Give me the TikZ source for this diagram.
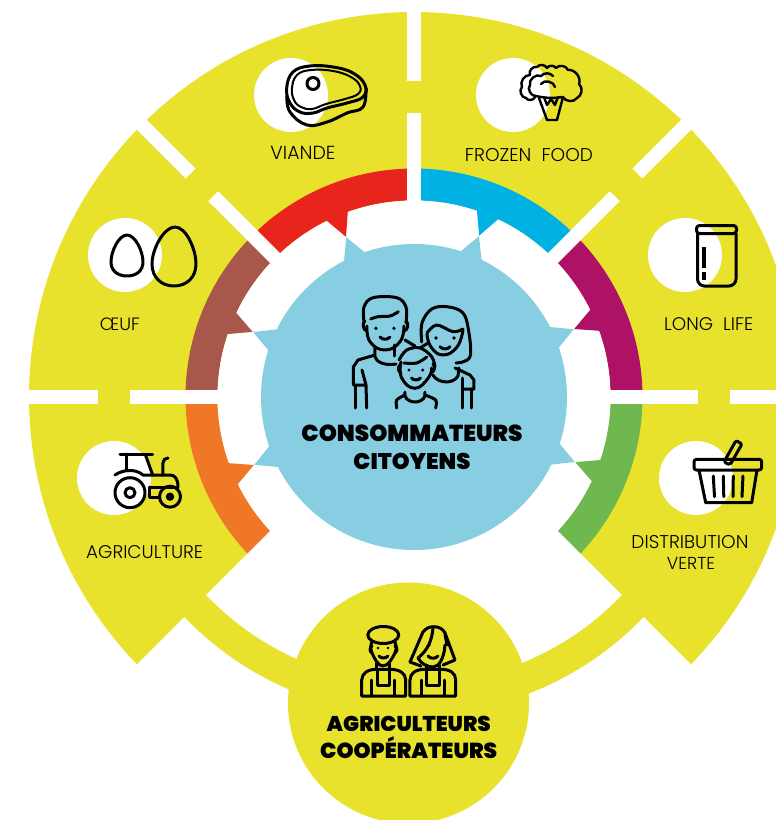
\documentclass[tikz,border=0pt]{standalone}
\usepackage{fontspec}
\usepackage{graphicx}
\newfontfamily\lblf{Poppins Light}
\newfontfamily\ttlf{Poppins Black}
\definecolor{yel}{HTML}{E8E22C}
\definecolor{cred}{HTML}{E8251C}
\definecolor{cblu}{HTML}{00B2E3}
\definecolor{cmag}{HTML}{AE1266}
\definecolor{cbro}{HTML}{A8574B}
\definecolor{cora}{HTML}{F07726}
\definecolor{cgre}{HTML}{6FB84F}
\definecolor{sky}{HTML}{88CEE3}
\newcommand{\ringpart}[3]{%
  \fill[#1] (#2:228.5) arc (#2:#3:228.5) -- (#3:196.5) arc (#3:#2:196.5) -- cycle;
}
\newcommand{\ringtooth}[2]{%
  \fill[#1] ({#2-3.5}:198) -- (#2:174) -- ({#2+3.5}:198) -- cycle;
}
\newcommand{\fitw}[2]{\resizebox{#1pt}{!}{#2}}
\tikzset{
  icon/.style={line width=3pt,line cap=round,line join=round,draw=black},
  thinicon/.style={icon,line width=2.4pt},
  lbl/.style={anchor=base,inner sep=0pt,text=black,font=\lblf\fontsize{17}{20}\selectfont},
  ttl/.style={anchor=base,inner sep=0pt,text=black,font=\ttlf\fontsize{22}{26}\selectfont},
}
\begin{document}
\begin{tikzpicture}[x=1pt,y=1pt]
\useasboundingbox (-414,397) rectangle (362,-423);
\clip (-414,397) rectangle (362,-423);
% yellow body
\fill[yel] (-43.95:385) arc (-43.95:223.95:385) -- (223.73:318) arc (223.73:316.27:318) -- cycle;
% coloured ring
\ringpart{cmag}{0}{45}
\ringpart{cblu}{45}{90}
\ringpart{cred}{90}{135}
\ringpart{cbro}{135}{180}
\ringpart{cora}{180}{225}
\ringpart{cgre}{-45}{0}
% white bottom wedge
\fill[white] (-10,0) -- (223.59:287) arc (223.59:316.41:287) -- (10,0) -- cycle;
% inner white
\fill[white] (0,0) circle (196.5);
% gear teeth of the ring
\ringtooth{cmag}{23}
\ringtooth{cblu}{68}
\ringtooth{cred}{113}
\ringtooth{cbro}{158}
\ringtooth{cora}{203}
\ringtooth{cgre}{338}
% white gaps
\foreach \a in {0,45,90,135,180}{
  \fill[white,rotate=\a] (190,-7) rectangle (284,7);
  \fill[white,rotate=\a] (316,-7) rectangle (395,7);
}
% central disc
\fill[sky] (0,0) circle (153);
\foreach \m in {23,68,113,158,203,338}{
  \fill[sky] ({\m-4.7}:151) -- (\m:173.5) -- ({\m+4.7}:151) -- cycle;
}
\begin{scope}[shift={(-414,397)},yscale=-1]
% farmers disc
\fill[yel] (408.5,703) circle (120.5);
% white discs
\fill[white] (291,95) circle (37);
\fill[white] (513,95) circle (37);
\fill[white] (125,255) circle (37);
\fill[white] (685,255) circle (37);
\fill[white] (114,478) circle (37);
\fill[white] (696,478) circle (37);
% steak
\draw[icon] plot[smooth cycle,tension=.7] coordinates {(286.7,88)(293,72)(310,66)(333,67)(353,73)(365,85)(363,97)(347,103)(327,108)(313,113)(300,112)(290,103)};
\draw[icon,line width=2pt] plot[smooth cycle,tension=.7] coordinates {(292,88)(297,75)(311,70)(333,71)(351,77)(360,86)(358,94)(345,99)(326,104)(312,109)(301,107)(294,100)};
\draw[icon] plot[smooth,tension=.7] coordinates {(287,96)(290,112)(307,125)(327,122)(347,113)(363,107)(366,88)};
\draw[icon] (313,83.5) circle (6);
% broccoli
\draw[thinicon] (535,97) to[bend right=70] (526,98) to[bend right=70] (522,87) to[bend right=60] (530,75) to[bend right=70] (537,67) to[bend right=60] (547,68) to[bend right=60] (556,68) to[bend right=60] (568,70) to[bend right=60] (579,84) to[bend right=60] (577,98) to[bend right=60] (563,97);
\draw[thinicon] (536,96) to[bend right=70] (530,85) to[bend right=70] (541,76) to[bend right=50] (553,76) ;
\draw[thinicon] (536,96) to[bend left=10] (563,97);
\draw[thinicon] (539,98) -- (547,120) -- (557,120) -- (563,97);
\draw[thinicon] (544,97) -- (547,105) -- (551,99) -- (555,105) -- (558,97);
\draw[thinicon] (541,84) to[bend right=70] (555,87);
% jar
\draw[icon,rounded corners=3pt] (696.5,225.5) rectangle (736.5,233.5);
\draw[icon,rounded corners=7pt] (697.5,233.5) -- (697.5,286) -- (736,286) -- (736,233.5);
\fill[black] (702,247) rectangle (706,268);
\fill[black] (702,272) rectangle (706,280);
% eggs
\draw[icon] (127,235) .. controls (135,235) and (143,251) .. (143,262) .. controls (143,271) and (136,276) .. (127,276) .. controls (118,276) and (111,271) .. (111,262) .. controls (111,251) and (119,235) .. (127,235) -- cycle;
\draw[icon] (175,227) .. controls (186,227) and (196,249) .. (196,264) .. controls (196,277) and (187,286) .. (174,286) .. controls (161,286) and (152,277) .. (152,264) .. controls (152,249) and (164,227) .. (175,227) -- cycle;
% tractor
\draw[icon] (130,492.7) circle (15);
\draw[icon] (130,492.7) circle (5);
\draw[icon] (170,496.7) circle (10.5);
\fill[black] (170,496.7) circle (4.2);
\draw[icon] (120,454) -- (152.7,454);
\draw[icon] (126.7,454) -- (126.7,470);
\draw[icon] (145.5,455) -- (152.7,475);
\draw[icon] (115,475) .. controls (122,470) and (135,468) .. (143,475) -- (170,475) .. controls (175,475) and (178,479) .. (178,487);
\draw[icon] (163,475) -- (163,463) .. controls (163,460) and (165,458) .. (168,458);
\draw[icon] (150,487) -- (178,487);
\draw[icon] (150,487) -- (150,497.7) -- (160,497.7);
% basket
\draw[icon,rounded corners=2.5pt] (694,459.3) rectangle (761.7,470);
\draw[icon] (699,470) -- (705.7,502.7) -- (751.7,502.7) -- (757,470);
\draw[icon] (713.3,476) -- (714.5,496.7);
\draw[icon] (723.3,476) -- (723.8,496.7);
\draw[icon] (733.3,476) -- (733,496.7);
\draw[icon] (743,476) -- (742,496.7);
\draw[icon,rounded corners=2pt] (724,462) -- (736,440.5) -- (742,444) -- (730,465) -- cycle;
% family: father
\draw[icon] plot[smooth,tension=.6] coordinates {(364,322)(364,307)(373,297.7)(396.7,297.7)(406,307)(406,323)};
\draw[icon] plot[smooth,tension=.6] coordinates {(370.7,319)(378,316.7)(390,316)(398.3,311.7)};
\draw[icon] plot[smooth,tension=.8] coordinates {(367,326)(370,341.7)(385,350)(400,341.7)(404,326)};
\draw[icon] (365,321) to[bend left=70] (367,331);
\draw[icon] (406,321) to[bend right=70] (404,331);
\fill (376,328.3) circle (1.8) (394,328.3) circle (1.8);
\draw[icon] (380,337) to[bend left=50] (390,337);
\draw[icon] (375,348) -- (375,356.7) .. controls (376,362) and (385,366) .. (396,364);
\draw[icon] (395,345) -- (395,356);
\draw[icon] (375,355) -- (358,360) -- (353.3,367) -- (353.3,385) -- (365,385);
\draw[icon] (356,385) -- (356,408);
\draw[icon] (362,370) -- (366,385) -- (366.7,408);
% family: mother
\draw[icon] plot[smooth,tension=.6] coordinates {(421.7,342)(422,323)(431.7,309)(446.7,306.7)(462,312)(468,327)(470,356.7)(456,363)};
\draw[icon] plot[smooth,tension=.6] coordinates {(427,333)(436.7,325)(453,331.7)(463,329)};
\draw[icon] plot[smooth,tension=.8] coordinates {(427,334)(431,347)(443,355)(457,347)(463,330)};
\fill (436,338) circle (1.8) (454,338) circle (1.8);
\draw[icon] (440,346.7) to[bend left=50] (450,346.7);
\draw[icon] (433,375) .. controls (437,383) and (453,385) .. (458,376) -- (459,368);
\draw[icon] (455,368) -- (470,375) -- (474,380) -- (474,389) -- (463,389);
\draw[icon] (463,389) -- (463,408);
\draw[icon] (471.7,389) -- (471.7,408);
\draw[icon] (463,389) -- (463,378);
\draw[icon] (405,340) -- (415,346);
\draw[icon] (428,343) -- (420,348);
% family: child
\draw[icon] plot[smooth,tension=.6] coordinates {(399,360)(406.7,350)(420,348)(431.7,356.7)(435,367)};
\draw[icon] plot[smooth,tension=.6] coordinates {(404,363)(416.7,363)(426.7,357)};
\draw[icon] plot[smooth,tension=.8] coordinates {(401,362)(401.7,378)(415,388.3)(428.3,378)(431.7,368)};
\draw[icon] (400,365) to[bend left=60] (401,373);
\draw[icon] (433,364) to[bend right=60] (431,373);
\fill (409,370) circle (1.7) (422.7,370) circle (1.7);
\draw[icon] (411.5,378) to[bend left=50] (420.5,378);
\draw[icon] plot[smooth,tension=.5] coordinates {(396.7,408)(396.7,400)(405,395)};
\draw[icon] (405,392) -- (405,396) .. controls (408,404) and (422,404) .. (425,396) -- (425,392);
\draw[icon] plot[smooth,tension=.5] coordinates {(425,395)(435.7,400)(435.7,408)};
% farmer man
\draw[icon] (383.3,635) ellipse (15.5 and 8.5);
\draw[icon] plot[smooth,tension=.8] coordinates {(371.7,642)(372,653)(383,666)(395,653)(395,642)};
\draw[icon] (372,646) to[bend left=70] (372,653);
\draw[icon] (395,646) to[bend right=70] (395,653);
\fill (378,648) circle (1.4) (388,648) circle (1.4);
\draw[icon] (379,656) to[bend left=50] (388,656);
\draw[icon] (376.7,663) -- (376.7,669.3);
\draw[icon] (390,663) -- (390,669.3);
\draw[icon] (361.7,696) -- (361.7,680) .. controls (362,673) and (368,669.3) .. (376.7,669.3) -- (390,669.3) .. controls (399,669.3) and (405.7,673) .. (405.7,680) -- (405.7,696) -- cycle;
\draw[icon] (378,670) -- (378,685) -- (390,685) -- (390,670);
\draw[icon] (371.7,680) -- (371.7,696);
\draw[icon] (395,680) -- (395,696);
% farmer woman
\draw[icon] (410,662) -- (423,632) .. controls (426,628) and (430,626.7) .. (434,626.7) .. controls (439,626.7) and (443,629) .. (445,633) -- (455,660) -- (443,665);
\draw[icon] (410,662) -- (421,666);
\draw[icon] (433,628) .. controls (432,640) and (428,650) .. (418,658);
\draw[icon] (418,658) .. controls (421,664) and (428,667) .. (433,667) .. controls (438,667) and (444,660) .. (445,645);
\draw[icon] (445,634) -- (447,645);
\fill (429.5,645) circle (1.4);
\draw[icon] (428,656) to[bend left=50] (438,656);
\draw[icon] (426.7,665) -- (426.7,669.3);
\draw[icon] (440,665) -- (440,669.3);
\draw[icon] (410,696) -- (410,680) .. controls (410,673) and (416,669.3) .. (425,669.3) -- (441,669.3) .. controls (450,669.3) and (455.7,673) .. (455.7,680) -- (455.7,696) -- cycle;
\draw[icon] (426.7,670) -- (426.7,685) -- (440,685) -- (440,670);
\draw[icon] (421.7,680) -- (421.7,696);
\draw[icon] (445,680) -- (445,696);
% labels
\node[lbl] (viande) at (303,160) {\fitw{65}{VIANDE}};
\node[lbl] (frozen) at (529,161) {\fitw{128}{FROZEN\ \ FOOD}};
\node[lbl] (oeuf) at (120,330.5) {\fitw{40}{ŒUF}};
\node[lbl] (longlife) at (708.7,330.5) {\fitw{89}{LONG\ \ LIFE}};
\node[lbl] (agri) at (144.7,558) {\fitw{117}{AGRICULTURE}};
\node[lbl] (distrib) at (690,548) {\fitw{117}{DISTRIBUTION}};
\node[lbl] (verte) at (691,569.5) {\fitw{48}{VERTE}};
\node[ttl] (conso) at (412,441.5) {\fitw{221}{CONSOMMATEURS}};
\node[ttl] (citoy) at (412,469.5) {\fitw{117}{CITOYENS}};
\node[ttl] (agcult) at (408.7,731) {\fitw{164}{AGRICULTEURS}};
\node[ttl] (coop) at (408.7,758) {\fitw{177}{COOPÉRATEURS}};
\end{scope}
\end{tikzpicture}
\end{document}
